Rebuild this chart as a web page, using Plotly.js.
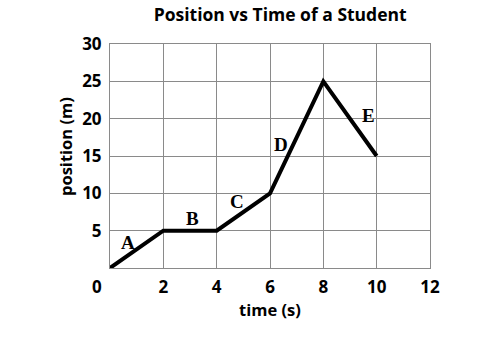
<!DOCTYPE html>
<html>
<head>
<meta charset="utf-8">
<script src="https://cdn.plot.ly/plotly-3.0.1.min.js"></script>
<style>html,body{margin:0;padding:0;background:#fff}#chart{width:503px;height:338px}</style>
</head>
<body>
<div id="chart"></div>
<script>
// Data
const timeS = [0, 2, 4, 6, 8, 10];
const positionM = [0, 5, 5, 10, 25, 15];
const segLabels = ["A", "B", "C", "D", "E"];
const segLabelX = [0.68, 3.1, 4.76, 6.41, 9.71];
const segLabelY = [3.35, 6.6, 8.85, 16.5, 20.4];
const xTicks = [2, 4, 6, 8, 10, 12];
const yTicks = [5, 10, 15, 20, 25, 30];

const tickFont = {family: "Open Sans, sans-serif", size: 17, color: "#000", weight: 700};
const labelFont = {family: "Open Sans, sans-serif", size: 16.5, color: "#000", weight: 700};

const annotations = segLabels.map((t, i) => ({
  x: segLabelX[i], y: segLabelY[i], xref: "x", yref: "y", text: t, showarrow: false,
  font: {family: "Liberation Serif, serif", size: 19, color: "#000", weight: 700}
}));
annotations.push({x: 0, y: 0, xref: "x", yref: "y", text: "0", showarrow: false,
  xshift: -13, yshift: -18, font: tickFont});
annotations.push({x: 0, y: 0.5, xref: "paper", yref: "paper", text: "position (m)", showarrow: false,
  textangle: -90, xanchor: "center", yanchor: "middle", xshift: -45, yshift: 9,
  font: labelFont});

Plotly.newPlot("chart", [{
  x: timeS, y: positionM, type: "scatter", mode: "lines",
  line: {color: "#000", width: 4}, hoverinfo: "skip"
}], {
  width: 503, height: 338,
  margin: {l: 110, r: 73, t: 44, b: 70},
  paper_bgcolor: "#fff", plot_bgcolor: "#fff",
  showlegend: false,
  title: {text: "Position vs Time of a Student", x: 0.557, xanchor: "center", y: 0.955, yanchor: "middle",
    font: {family: "Open Sans, sans-serif", size: 17.5, color: "#000", weight: 700}},
  xaxis: {range: [0, 12], tickvals: xTicks, showgrid: true, gridcolor: "#8a8a8a", gridwidth: 1,
    showline: true, linecolor: "#8a8a8a", linewidth: 1, mirror: true, zeroline: false,
    ticks: "", ticklabelstandoff: 4, tickfont: tickFont, fixedrange: true,
    title: {text: "time (s)", standoff: 6, font: labelFont}},
  yaxis: {range: [0, 30], tickvals: yTicks, showgrid: true, gridcolor: "#8a8a8a", gridwidth: 1,
    showline: true, linecolor: "#8a8a8a", linewidth: 1, mirror: true, zeroline: false,
    ticks: "", ticklabelstandoff: 4, tickfont: tickFont, fixedrange: true},
  annotations: annotations
}, {displayModeBar: false, staticPlot: true});
</script>
</body>
</html>
